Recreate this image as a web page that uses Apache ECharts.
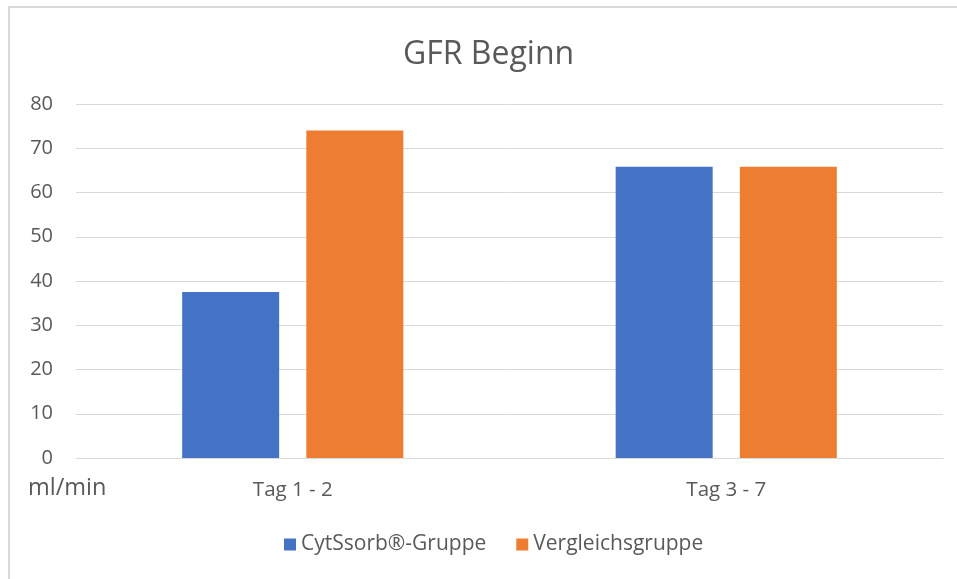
<!DOCTYPE html>
<html>
<head>
<meta charset="utf-8">
<script src="https://cdn.jsdelivr.net/npm/echarts@6/dist/echarts.min.js"></script>
<style>html,body{margin:0;padding:0;background:#fff}#c{width:957px;height:579px}</style>
</head>
<body>
<div id="c"></div>
<script>
const categories = ['Tag 1 - 2', 'Tag 3 - 7'];
const seriesNames = ['CytSsorb®-Gruppe', 'Vergleichsgruppe'];
const cytosorb = [37.5, 65.8];
const vergleich = [74, 65.8];
const yTicks = { min: 0, max: 80, interval: 10 };

const FONT = '"Open Sans", "Noto Sans", sans-serif';
const chart = echarts.init(document.getElementById('c'), null, { renderer: 'canvas' });
chart.setOption({
  backgroundColor: '#fff',
  animation: false,
  title: {
    text: 'GFR Beginn', left: 398, top: 34,
    textStyle: { fontFamily: FONT, fontSize: 32, fontWeight: 'normal', color: '#595959' }
  },
  graphic: [
    { type: 'rect', shape: { x: 9, y: 7, width: 1000, height: 700 }, style: { fill: 'none', stroke: '#D9D9D9', lineWidth: 2 }, silent: true },
    { type: 'text', left: 28, top: 476, style: { text: 'ml/min', font: '23.5px ' + FONT, fill: '#595959' } }
  ],
  legend: {
    bottom: 19, left: 279, itemWidth: 12, itemHeight: 12, itemGap: 30,
    icon: 'rect',
    textStyle: { fontFamily: FONT, fontSize: 21, color: '#595959' },
    data: seriesNames
  },
  grid: { left: 76, right: 14, top: 104, bottom: 121, containLabel: false },
  xAxis: {
    type: 'category', data: categories,
    axisLine: { show: true, lineStyle: { color: '#D9D9D9', width: 1 } },
    axisTick: { show: false },
    axisLabel: { fontFamily: FONT, fontSize: 20.5, color: '#595959', margin: 22 }
  },
  yAxis: {
    type: 'value', min: yTicks.min, max: yTicks.max, interval: yTicks.interval,
    axisLine: { show: false }, axisTick: { show: false },
    splitLine: { lineStyle: { color: '#D9D9D9', width: 1 } },
    axisLabel: { fontFamily: FONT, fontSize: 20, color: '#595959', margin: 23 }
  },
  series: [
    { name: seriesNames[0], type: 'bar', data: cytosorb, itemStyle: { color: '#4472C4' }, barWidth: 97, barGap: '28%' },
    { name: seriesNames[1], type: 'bar', data: vergleich, itemStyle: { color: '#ED7D31' }, barWidth: 97, barGap: '28%' }
  ]
});
</script>
</body>
</html>
